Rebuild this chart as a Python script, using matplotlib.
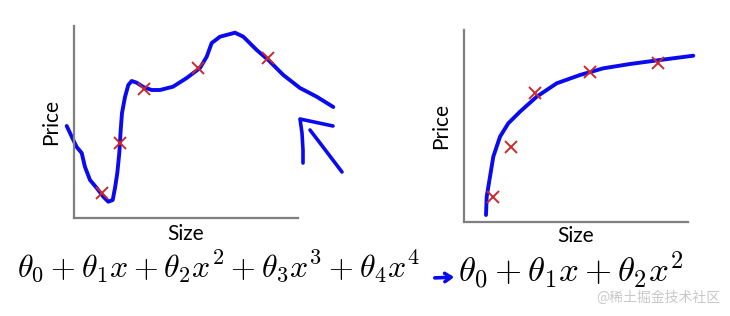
import matplotlib
matplotlib.use("Agg")
import matplotlib.pyplot as plt

# left panel: overfit curve (axis units ~ pixels from the origin)
over_x = [-7.3, -0.7, 2.7, 7.7, 11, 16, 22.7, 29.3, 34.3, 38.7, 41, 43.3, 45.3, 46.7, 48, 51, 54.3, 57.7,
          62.7, 69.3, 77.7, 86, 99, 112.7, 126, 132.7, 137.7, 146, 161, 169.3, 182.7, 194.3, 209.3,
          226, 242.7, 259.3]
over_y = [92, 78, 71, 65, 51, 38, 30, 21.3, 16.3, 18, 30, 45, 65, 88, 105, 121, 133, 137,
          135.3, 131, 128, 128, 131.3, 140, 150, 161.3, 175, 181.3, 185.3, 181.3, 168, 158, 143,
          130, 121.3, 111]
left_pts_x = [28, 46, 70, 124, 194]
left_pts_y = [25, 75, 129, 150, 160]

# hand drawn arrow next to the left panel
arrow1_x = [259, 226, 228, 229, 229]
arrow1_y = [92, 99, 85, 68, 55]
arrow2_x = [236, 246, 268]
arrow2_y = [88, 75, 46]

# right panel: quadratic-ish fit
fit_x = [22, 22.7, 26, 29.3, 36, 44.3, 56, 72.7, 92.7, 116, 139.3, 166, 196, 229.3]
fit_y = [7, 25.3, 45.3, 65.3, 85.3, 98.7, 110.3, 125.3, 138.7, 147, 153.7, 158, 162, 166.3]
right_pts_x = [28.7, 46.7, 71, 126, 194.3]
right_pts_y = [25.3, 75.3, 129.3, 150.3, 159.3]

W, H = 730, 316
fig = plt.figure(figsize=(W / 100, H / 100), dpi=100)
plt.rcParams["mathtext.fontset"] = "cm"

blue = "#0a0af0"
red = "#cc2a2a"
gray = "#7f7f7f"
label_font = ["Lato", "DejaVu Sans"]


def make_axes(x0, y_bottom, w, h):
    ax = fig.add_axes([x0 / W, 1 - y_bottom / H, w / W, h / H])
    ax.set_xlim(0, w)
    ax.set_ylim(0, h)
    for s in ["top", "right"]:
        ax.spines[s].set_visible(False)
    for s in ["left", "bottom"]:
        ax.spines[s].set_color(gray)
        ax.spines[s].set_linewidth(1.6)
    ax.set_xticks([])
    ax.set_yticks([])
    ax.patch.set_alpha(0)
    return ax


ax1 = make_axes(74, 218, 224, 192)
ax1.plot(over_x, over_y, color=blue, lw=2.8, clip_on=False, solid_capstyle="round", solid_joinstyle="round")
ax1.plot(arrow1_x, arrow1_y, color=blue, lw=2.6, clip_on=False, solid_capstyle="round", solid_joinstyle="round")
ax1.plot(arrow2_x, arrow2_y, color=blue, lw=2.6, clip_on=False, solid_capstyle="round", solid_joinstyle="round")
ax1.plot(left_pts_x, left_pts_y, "x", color=red, ms=9, mew=1.4, clip_on=False)
ax1.set_ylabel("Price", fontsize=15, family=label_font, labelpad=9)
ax1.set_xlabel("Size", fontsize=15, family=label_font, labelpad=4)

ax2 = make_axes(464, 222, 224, 192)
ax2.plot(fit_x, fit_y, color=blue, lw=2.8, clip_on=False, solid_capstyle="round", solid_joinstyle="round")
ax2.plot(right_pts_x, right_pts_y, "x", color=red, ms=9, mew=1.4, clip_on=False)
ax2.set_ylabel("Price", fontsize=15, family=label_font, labelpad=9)
ax2.set_xlabel("Size", fontsize=15, family=label_font, labelpad=3)

fig.text(17 / W, 1 - 267 / H, r"$\theta_0+\theta_1x+\theta_2x^2+\theta_3x^3+\theta_4x^4$",
         fontsize=23, ha="left", va="center")
fig.text(458 / W, 1 - 270 / H, r"$\theta_0+\theta_1x+\theta_2x^2$",
         fontsize=25, ha="left", va="center")
ax2.annotate("", xy=(457 / W, 1 - 277 / H), xytext=(432 / W, 1 - 278 / H),
             xycoords="figure fraction", textcoords="figure fraction", annotation_clip=False,
             arrowprops=dict(arrowstyle="->,head_length=0.45,head_width=0.3", color=blue, lw=2.6))

fig.text(720 / W, 1 - 298 / H, "@稀土掘金技术社区", fontsize=10, color="#c8c8c8",
         family=["Noto Sans CJK SC", "DejaVu Sans"], ha="right", va="center")

fig.savefig("out.png", dpi=100)
